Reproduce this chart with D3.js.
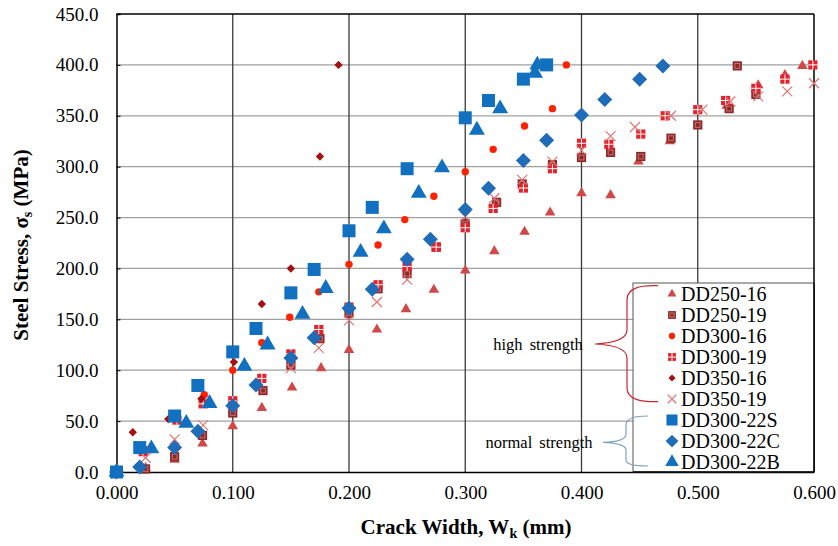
<!DOCTYPE html>
<html><head><meta charset="utf-8">
<script src="https://cdn.jsdelivr.net/npm/d3@7"></script>
<style>body{margin:0;background:#fff}text{font-family:"Liberation Serif","Times New Roman",serif}</style>
</head><body>
<svg id="c" width="838" height="546"></svg>
<script>
// ---- data ----
const xTicks = [0, 0.1, 0.2, 0.3, 0.4, 0.5, 0.6];
const yTicks = [0, 50, 100, 150, 200, 250, 300, 350, 400, 450];
const seriesNames = ["DD250-16","DD250-19","DD300-16","DD300-19","DD350-16","DD350-19","DD300-22S","DD300-22C","DD300-22B"];

const dd250_16_x = [0,0.025,0.05,0.074,0.10,0.125,0.151,0.176,0.20,0.224,0.249,0.273,0.30,0.325,0.351,0.373,0.40,0.425,0.449,0.476,0.525,0.552,0.575,0.590];
const dd250_16_y = [0,4,12,28,45,63,83,102,120,140,160,179,198,217,236,255,274,272,305,325,360,380,390,399];

const dd250_19_x = [0,0.025,0.05,0.074,0.10,0.126,0.150,0.175,0.20,0.225,0.25,0.275,0.30,0.327,0.349,0.375,0.40,0.425,0.451,0.477,0.50,0.527,0.534,0.55];
const dd250_19_y = [0,3,15,36,58,80,105,131,156,180,195,221,244,265,283,302,309,314,310,328,341,357,399,371];

const dd300_16_x = [0,0.025,0.05,0.0755,0.10,0.125,0.149,0.174,0.20,0.225,0.248,0.273,0.30,0.324,0.351,0.375,0.387];
const dd300_16_y = [0,22,52,76,100,127,152,177,204,223,248,271,295,317,340,357,400];

const dd300_19_x = [0,0.023,0.052,0.0745,0.10,0.125,0.150,0.174,0.20,0.225,0.25,0.275,0.30,0.324,0.350,0.375,0.40,0.4235,0.451,0.472,0.50,0.524,0.55,0.575,0.599];
const dd300_19_y = [0,20,51,67,70,92,116,140,162,184,202,221,240,259,279,298,323,322,332,350,356,365,377,386,400];

const dd350_16_x = [0,0.014,0.0445,0.073,0.101,0.125,0.15,0.175,0.191];
const dd350_16_y = [0,39,52,72,108,165,200,310,400];

const dd350_19_x = [0,0.025,0.05,0.0745,0.10,0.15,0.174,0.20,0.224,0.25,0.30,0.325,0.349,0.375,0.40,0.425,0.446,0.477,0.504,0.528,0.552,0.577,0.60];
const dd350_19_y = [0,14,32,46,66,102,122,149,167,189,251,269,287,305,316,330,339,350,356,364,369,374,382];

const dd300_22s_x = [0,0.02,0.05,0.07,0.10,0.12,0.15,0.17,0.20,0.22,0.25,0.30,0.32,0.35,0.37];
const dd300_22s_y = [0,24,55,85,118,141,176,199,237,260,298,348,365,386,400];

const dd300_22c_x = [0,0.02,0.05,0.07,0.10,0.12,0.15,0.17,0.20,0.22,0.25,0.27,0.30,0.32,0.35,0.37,0.40,0.42,0.45,0.47];
const dd300_22c_y = [0,5,24,40,65,85.5,112,132,161,179.5,209,228.6,258,278.7,306,326,350.7,366,386,399];

const dd300_22b_x = [0,0.03,0.06,0.08,0.11,0.13,0.16,0.18,0.21,0.23,0.26,0.28,0.31,0.33,0.36,0.362];
const dd300_22b_y = [0,23,48,67.5,104,125,155,180.5,216,239,274,299,336,357,392,400];

// ---- setup ----
const FONT = '"Liberation Serif", "Times New Roman", serif';
const svg = d3.select("#c");
const W = 838, H = 546;
const L = 116.5, R = 814, T = 14, B = 472;
const x = d3.scaleLinear().domain([0, 0.6]).range([L, R]);
const y = d3.scaleLinear().domain([0, 450]).range([B, T]);

svg.append("rect").attr("width", W).attr("height", H).attr("fill", "#fff");

// grid
svg.append("g").selectAll("line").data(yTicks.filter(v => v > 0 && v < 450)).join("line")
  .attr("x1", L).attr("x2", R).attr("y1", d => y(d)).attr("y2", d => y(d))
  .attr("stroke", "#a0a0a0").attr("stroke-width", 1.3);
svg.append("g").selectAll("line").data(xTicks.filter(v => v > 0 && v < 0.6)).join("line")
  .attr("x1", d => x(d)).attr("x2", d => x(d)).attr("y1", T).attr("y2", B)
  .attr("stroke", "#3a3a3a").attr("stroke-width", 1.3);

// axes
const yAxis = d3.axisLeft(y).tickValues(yTicks).tickFormat(d => d.toFixed(1)).tickSize(-4).tickPadding(18);
const gy = svg.append("g").attr("transform", `translate(${L},0)`).call(yAxis).attr("font-family", FONT);
gy.select(".domain").attr("stroke", "#000").attr("stroke-width", 1.5);
gy.selectAll(".tick line").attr("stroke", "#000");
gy.selectAll("text").attr("font-size", 19).attr("fill", "#000").attr("font-family", FONT);

const xAxis = d3.axisBottom(x).tickValues(xTicks).tickFormat(d => d.toFixed(3)).tickSize(0).tickPadding(14);
const gx = svg.append("g").attr("transform", `translate(0,${B})`).call(xAxis).attr("font-family", FONT);
gx.select(".domain").attr("stroke", "#000").attr("stroke-width", 1.5);
gx.selectAll("text").attr("font-size", 19).attr("fill", "#000").attr("font-family", FONT);

// top & right border
svg.append("line").attr("x1", L).attr("x2", R).attr("y1", T).attr("y2", T).attr("stroke", "#000").attr("stroke-width", 1.3);
svg.append("line").attr("x1", R).attr("x2", R).attr("y1", T).attr("y2", B).attr("stroke", "#000").attr("stroke-width", 1.5);

// ---- markers ----
function drawMarker(g, kind, k) {
  k = k || 1;
  switch (kind) {
    case "tri-red":
      g.append("path").attr("d", d3.symbol(d3.symbolTriangle, 48 * k * k)()).attr("fill", "#D04848"); break;
    case "sq-dark":
      g.append("rect").attr("x", -4.6 * k).attr("y", -4.6 * k).attr("width", 9.2 * k).attr("height", 9.2 * k).attr("fill", "#8E2828");
      g.append("rect").attr("x", -2.4 * k).attr("y", -2.4 * k).attr("width", 4.8 * k).attr("height", 4.8 * k)
        .attr("fill", "none").attr("stroke", "#C77070").attr("stroke-width", 1); break;
    case "circle":
      g.append("circle").attr("r", 3.7 * k).attr("fill", "#FF2200"); break;
    case "sq-red":
      g.append("rect").attr("x", -4.6 * k).attr("y", -4.6 * k).attr("width", 9.2 * k).attr("height", 9.2 * k).attr("fill", "#E3222C");
      g.append("path").attr("d", `M${-4.6 * k},0H${4.6 * k}M0,${-4.6 * k}V${4.6 * k}`).attr("stroke", "#fff").attr("stroke-width", 1); break;
    case "dia-dark":
      g.append("path").attr("d", `M0,${-4.2 * k}L${4.2 * k},0L0,${4.2 * k}L${-4.2 * k},0Z`).attr("fill", "#A51010"); break;
    case "x":
      g.append("path").attr("d", `M${-5 * k},${-5 * k}L${5 * k},${5 * k}M${-5 * k},${5 * k}L${5 * k},${-5 * k}`)
        .attr("stroke", "#E07575").attr("stroke-width", 1.2).attr("fill", "none"); break;
    case "sq-blue":
      g.append("rect").attr("x", -6.5 * k).attr("y", -6.5 * k).attr("width", 13 * k).attr("height", 13 * k).attr("fill", "#1170BF"); break;
    case "dia-blue":
      g.append("path").attr("d", `M0,${-7.5 * k}L${7.5 * k},0L0,${7.5 * k}L${-7.5 * k},0Z`).attr("fill", "#1F6DB8"); break;
    case "tri-blue":
      g.append("path").attr("d", d3.symbol(d3.symbolTriangle, 110 * k * k)()).attr("fill", "#1170BF"); break;
  }
}

const series = [
  { name: seriesNames[0], xs: dd250_16_x, ys: dd250_16_y, kind: "tri-red" },
  { name: seriesNames[1], xs: dd250_19_x, ys: dd250_19_y, kind: "sq-dark" },
  { name: seriesNames[2], xs: dd300_16_x, ys: dd300_16_y, kind: "circle" },
  { name: seriesNames[3], xs: dd300_19_x, ys: dd300_19_y, kind: "sq-red" },
  { name: seriesNames[4], xs: dd350_16_x, ys: dd350_16_y, kind: "dia-dark" },
  { name: seriesNames[5], xs: dd350_19_x, ys: dd350_19_y, kind: "x" },
  { name: seriesNames[6], xs: dd300_22s_x, ys: dd300_22s_y, kind: "sq-blue" },
  { name: seriesNames[7], xs: dd300_22c_x, ys: dd300_22c_y, kind: "dia-blue" },
  { name: seriesNames[8], xs: dd300_22b_x, ys: dd300_22b_y, kind: "tri-blue" }
];

const plot = svg.append("g");
series.forEach(s => {
  const pts = s.xs.map((v, i) => [v, s.ys[i]]);
  plot.append("g").selectAll("g").data(pts).join("g")
    .attr("transform", d => `translate(${x(d[0])},${y(d[1])})`)
    .each(function () { drawMarker(d3.select(this), s.kind, 1); });
});

// ---- legend ----
const lg = svg.append("g");
lg.append("rect").attr("x", 633).attr("y", 283).attr("width", R - 633).attr("height", B - 283)
  .attr("fill", "#fff").attr("stroke", "#555").attr("stroke-width", 1);
series.forEach((s, i) => {
  const cy = 294 + i * 21;
  const g = lg.append("g").attr("transform", `translate(672,${cy})`);
  drawMarker(g, s.kind, 0.85);
  lg.append("text").attr("x", 681).attr("y", cy).attr("dy", "0.35em").attr("font-size", 20)
    .attr("font-family", FONT).attr("fill", "#000").text(s.name);
});
// redraw right & bottom borders on top of legend
svg.append("line").attr("x1", R).attr("x2", R).attr("y1", 283).attr("y2", B).attr("stroke", "#000").attr("stroke-width", 1.5);
svg.append("line").attr("x1", 633).attr("x2", R).attr("y1", B).attr("y2", B).attr("stroke", "#000").attr("stroke-width", 1.5);

// braces and group labels
svg.append("path").attr("d", "M658,285.7 C640,285 627,288 627,300 L627,330 C627,338 616,343 595,344 C616,345 627,350 627,358 L627,388 C627,399 640,402 658,401.7")
  .attr("fill", "none").attr("stroke", "#C8282E").attr("stroke-width", 1.2);
svg.append("path").attr("d", "M648,416 C634,416 626,419 626,425 L626,434 C626,439 618,442 603,442.3 C618,443 626,445 626,450 L626,460 C626,464 634,466 648,466")
  .attr("fill", "none").attr("stroke", "#7FA3C4").attr("stroke-width", 1.2);
svg.append("text").attr("x", 538).attr("y", 344).attr("dy", "0.35em").attr("text-anchor", "middle")
  .attr("font-size", 16.5).attr("font-family", FONT).attr("fill", "#000").attr("word-spacing", 3).text("high strength");
svg.append("text").attr("x", 539).attr("y", 442).attr("dy", "0.35em").attr("text-anchor", "middle")
  .attr("font-size", 16.5).attr("font-family", FONT).attr("fill", "#000").attr("word-spacing", 3).text("normal strength");

// ---- axis titles ----
const xt = svg.append("text").attr("x", 466).attr("y", 534).attr("text-anchor", "middle")
  .attr("font-size", 21).attr("font-weight", "bold").attr("font-family", FONT).attr("fill", "#000");
xt.append("tspan").text("Crack Width, W");
xt.append("tspan").attr("font-size", 14).attr("dy", 4).text("k");
xt.append("tspan").attr("dy", -4).text(" (mm)");

const yt = svg.append("text").attr("transform", "translate(28,245) rotate(-90)").attr("text-anchor", "middle")
  .attr("font-size", 21).attr("font-weight", "bold").attr("font-family", FONT).attr("fill", "#000");
yt.append("tspan").text("Steel Stress, σ");
yt.append("tspan").attr("font-size", 14).attr("dy", 4).text("s");
yt.append("tspan").attr("dy", -4).text(" (MPa)");
</script>
</body></html>
